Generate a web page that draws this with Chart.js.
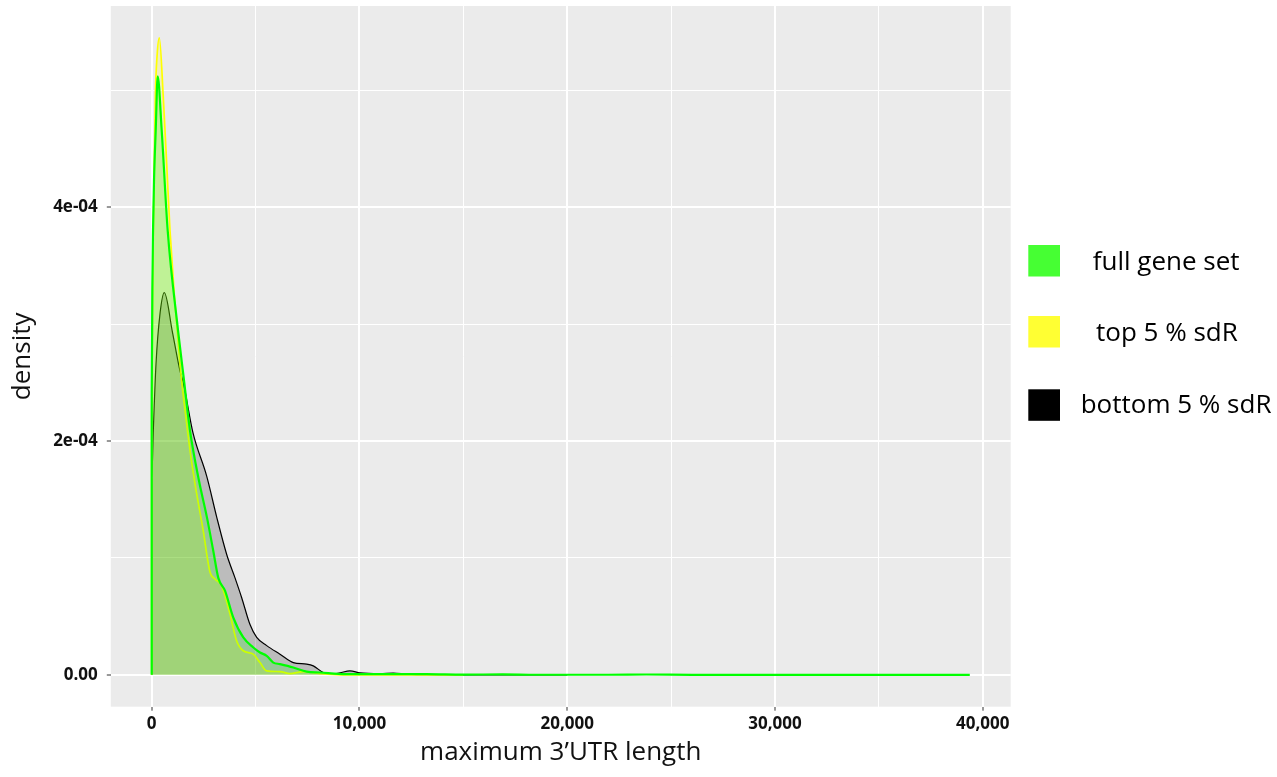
<!DOCTYPE html>
<html>
<head>
<meta charset="utf-8">
<script src="https://cdn.jsdelivr.net/npm/chart.js@4/dist/chart.umd.min.js"></script>
<style>
  html, body { margin: 0; padding: 0; background: #ffffff; }
  #wrap { position: relative; width: 1277px; height: 777px; }
</style>
</head>
<body>
<div id="wrap"><canvas id="c" width="1277" height="777"></canvas></div>
<script>
// Density estimates of the maximum 3'UTR length (x: length in nt, y: density)
const seriesNames = ['full gene set', 'top 5 % sdR', 'bottom 5 % sdR'];

const fullX = [0, 0, 30, 63, 111, 193, 289, 481, 770, 1266, 1555, 1844, 2277, 2662, 2965, 3206, 3528, 3928, 4409, 4891,
  5213, 5535, 5853, 6176, 6816, 7461, 8101, 9386, 11000, 13237, 15000, 16900, 18500, 22000, 23800, 26000, 39380];
const fullY = [0, 2.4e-4, 3.3e-4, 3.8e-4, 4.23e-4, 4.66e-4, 5.12e-4, 4.66e-4, 3.80e-4, 2.95e-4, 2.52e-4, 2.09e-4, 1.66e-4,
  1.345e-4, 1.06e-4, 0.83e-4, 0.72e-4, 0.49e-4, 0.32e-4, 0.234e-4, 0.191e-4, 0.163e-4, 0.105e-4, 0.092e-4, 0.063e-4,
  0.028e-4, 0.020e-4, 0.006e-4, 0.006e-4, 0.006e-4, 0.002e-4, 0.004e-4, 0.001e-4, 0.001e-4, 0.003e-4, 0.0005e-4, 0];

const topX = [0, 0, 40, 77, 173, 260, 366, 558, 722, 881, 1362, 1685, 1900, 2166, 2484, 2806, 3047, 3369, 3769, 4091,
  4409, 4891, 5213, 5535, 6176, 6657, 7297, 8101, 9064, 15000];
const topY = [0, 2.2e-4, 3.2e-4, 3.8e-4, 4.94e-4, 5.3e-4, 5.45e-4, 4.94e-4, 4.37e-4, 3.80e-4, 2.66e-4, 2.15e-4, 1.85e-4,
  1.55e-4, 1.23e-4, 0.88e-4, 0.82e-4, 0.76e-4, 0.52e-4, 0.29e-4, 0.206e-4, 0.177e-4, 0.105e-4, 0.034e-4, 0.028e-4,
  0.011e-4, 0.028e-4, 0.011e-4, 0, 0];

const bottomX = [0, 0, 77, 207, 400, 607, 1000, 1362, 1521, 1988, 2647, 3129, 3610, 4010, 4332, 4732, 5054, 5535, 6176,
  6816, 7461, 7779, 8260, 8741, 9064, 9545, 10026, 10990, 11630, 12274, 13237, 16000, 20000];
const bottomY = [0, 1.68e-4, 2.09e-4, 2.66e-4, 3.09e-4, 3.27e-4, 2.93e-4, 2.60e-4, 2.50e-4, 2.07e-4, 1.70e-4, 1.35e-4,
  1.03e-4, 0.83e-4, 0.66e-4, 0.43e-4, 0.32e-4, 0.25e-4, 0.177e-4, 0.105e-4, 0.092e-4, 0.077e-4, 0.020e-4, 0.006e-4,
  0.017e-4, 0.034e-4, 0.017e-4, 0.011e-4, 0.015e-4, 0.006e-4, 0.001e-4, 0.0005e-4, 0];

// Axis ticks and grid
const xGridValues = [0, 5000, 10000, 15000, 20000, 25000, 30000, 35000, 40000];
const xLabelValues = [0, 10000, 20000, 30000, 40000];
const yGridValues = [0, 1e-4, 2e-4, 3e-4, 4e-4, 5e-4];
const yLabelValues = [0, 2e-4, 4e-4];
const yLabelTexts = ['0.00', '2e-04', '4e-04'];

const FONT = "'Open Sans', 'DejaVu Sans', sans-serif";
const legendColors = ['#46FF33', '#FFFF33', '#000000'];

function pts(xs, ys) { return xs.map((x, i) => ({ x: x, y: ys[i] })); }
const isMajorX = v => xLabelValues.indexOf(v) >= 0;
const yLabelIndex = v => yLabelValues.findIndex(t => Math.abs(t - v) < 1e-9);

const panelBackground = {
  id: 'panelBackground',
  beforeDraw(chart) {
    const { ctx, chartArea: a } = chart;
    ctx.save();
    ctx.fillStyle = '#EBEBEB';
    ctx.fillRect(a.left, a.top, a.right - a.left, a.bottom - a.top);
    ctx.restore();
  }
};

const sideLegend = {
  id: 'sideLegend',
  afterDraw(chart) {
    const ctx = chart.ctx;
    const boxes = [245, 316, 389.3];
    const textX = [1092.7, 1096, 1080.7];
    const baselines = [270, 341, 413];
    ctx.save();
    seriesNames.forEach((name, i) => {
      ctx.fillStyle = legendColors[i];
      ctx.fillRect(1028.3, boxes[i], 31.7, 31.5);
      ctx.fillStyle = '#000000';
      ctx.font = '26px ' + FONT;
      ctx.textAlign = 'left';
      ctx.textBaseline = 'alphabetic';
      ctx.fillText(name, textX[i], baselines[i]);
    });
    ctx.restore();
  }
};

const common = { pointRadius: 0, pointHoverRadius: 0, fill: 'origin', cubicInterpolationMode: 'monotone' };

new Chart(document.getElementById('c'), {
  type: 'line',
  data: {
    datasets: [
      Object.assign({ label: seriesNames[0], data: pts(fullX, fullY), borderColor: '#00FF00',
        backgroundColor: 'rgba(0,255,0,0.2)', borderWidth: 2.2, order: 0 }, common),
      Object.assign({ label: seriesNames[1], data: pts(topX, topY), borderColor: '#FFFF00',
        backgroundColor: 'rgba(255,255,0,0.2)', borderWidth: 1.7, order: 1 }, common),
      Object.assign({ label: seriesNames[2], data: pts(bottomX, bottomY), borderColor: '#000000',
        backgroundColor: 'rgba(0,0,0,0.2)', borderWidth: 1.2, order: 2 }, common)
    ]
  },
  options: {
    responsive: false,
    animation: false,
    layout: { padding: { top: 6, right: 266.3, left: 0, bottom: 0 } },
    plugins: { legend: { display: false }, tooltip: { enabled: false } },
    scales: {
      x: {
        type: 'linear',
        min: -1969,
        max: 41349,
        afterBuildTicks: s => { s.ticks = xGridValues.map(v => ({ value: v })); },
        afterFit: s => { s.height = 70.3; s.paddingLeft = 0; s.paddingRight = 0; },
        border: { display: false },
        grid: {
          color: '#FFFFFF',
          lineWidth: c => (c.tick && isMajorX(c.tick.value)) ? 2 : 1,
          drawTicks: true,
          tickLength: 4,
          tickWidth: 1,
          tickColor: c => (c.tick && isMajorX(c.tick.value)) ? '#333333' : 'rgba(0,0,0,0)'
        },
        ticks: {
          autoSkip: false,
          maxRotation: 0,
          padding: 3,
          color: '#111111',
          font: { family: FONT, size: 17, weight: 'bold' },
          callback: v => isMajorX(v) ? v.toLocaleString('en-US') : ''
        },
        title: {
          display: true,
          text: 'maximum 3\u2019UTR length',
          color: '#111111',
          font: { family: FONT, size: 26 },
          padding: { top: 0, bottom: 9 }
        }
      },
      y: {
        type: 'linear',
        min: -0.2725e-4,
        max: 5.7225e-4,
        afterBuildTicks: s => { s.ticks = yGridValues.map(v => ({ value: v })); },
        afterFit: s => { s.width = 110.8; s.paddingTop = 0; s.paddingBottom = 0; },
        border: { display: false },
        grid: {
          color: '#FFFFFF',
          lineWidth: c => (c.tick && yLabelIndex(c.tick.value) >= 0) ? 2 : 1,
          drawTicks: true,
          tickLength: 4,
          tickWidth: 1,
          tickColor: c => (c.tick && yLabelIndex(c.tick.value) >= 0) ? '#333333' : 'rgba(0,0,0,0)'
        },
        ticks: {
          autoSkip: false,
          padding: 9,
          color: '#111111',
          font: { family: FONT, size: 17, weight: 'bold' },
          callback: v => { const i = yLabelIndex(v); return i >= 0 ? yLabelTexts[i] : ''; }
        },
        title: {
          display: true,
          text: 'density',
          color: '#111111',
          font: { family: FONT, size: 26 },
          padding: { top: 7, bottom: 0 }
        }
      }
    }
  },
  plugins: [panelBackground, sideLegend]
});
</script>
</body>
</html>
